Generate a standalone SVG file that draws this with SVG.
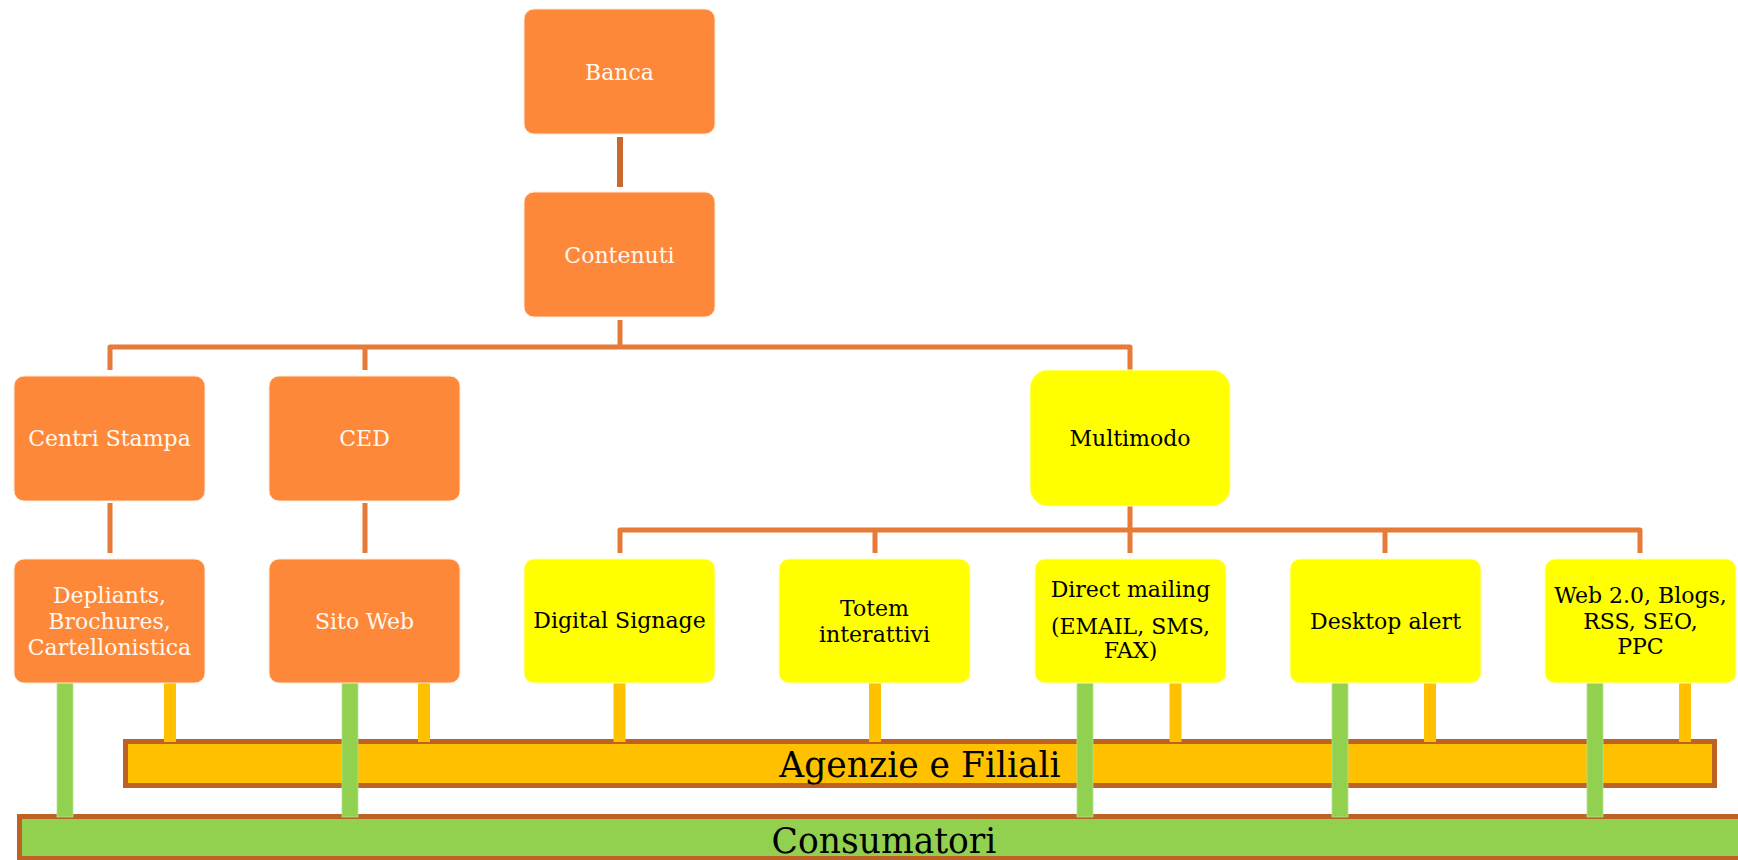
<svg xmlns="http://www.w3.org/2000/svg" width="1738" height="860" viewBox="0 0 1738 860">
<style>
.ob{fill:#FE8839;stroke:#FFE9D8;stroke-width:1}
.yb{fill:#FFFF00;stroke:#FFFFB0;stroke-width:1}
.t{font-family:"DejaVu Serif","Liberation Serif",serif;font-size:22px;text-anchor:middle}
.tw{fill:#FFF8F0}
.tk{fill:#000}
.big{font-family:"DejaVu Serif","Liberation Serif",serif;font-size:34.5px;text-anchor:middle;fill:#000}
.ln{fill:none;stroke:#E67A36;stroke-width:5;stroke-linejoin:round}
.ln2{fill:none;stroke:#C8692F;stroke-width:6}
.gs{fill:#92D050;stroke:#B5E090;stroke-width:0.8}
.os{fill:#FFC000}
</style>
<rect width="1738" height="860" fill="#FFFFFF"/>
<g id="bars">
<g id="agenzie">
<rect x="125.5" y="741.5" width="1589" height="44" fill="#FFC000" stroke="#BE6125" stroke-width="5"/>
<text class="big" x="920" y="777">Agenzie e Filiali</text>
</g>
<g id="consumatori">
<rect x="19.5" y="816.5" width="1760" height="42" fill="#92D050" stroke="#BE6125" stroke-width="5"/>
<text class="big" x="884" y="853">Consumatori</text>
</g>
</g>
<g id="connectors">
<path class="ln2" d="M620,137 V187"/>
<path class="ln" d="M620,320 V347 M110,370 V347 H1130 V370 M365,347 V370"/>
<path class="ln" d="M110,503 V553 M365,503 V553"/>
<path class="ln" d="M1130,503 V553 M620,553 V530 H1640 V553 M875,530 V553 M1385,530 V553"/>
<rect class="os" x="164" y="682" width="12" height="60"/>
<rect class="os" x="418" y="682" width="12" height="60"/>
<rect class="os" x="613.5" y="682" width="12" height="60"/>
<rect class="os" x="869" y="682" width="12" height="60"/>
<rect class="os" x="1169.5" y="682" width="12" height="60"/>
<rect class="os" x="1424" y="682" width="12" height="60"/>
<rect class="os" x="1679" y="682" width="12" height="60"/>
<rect class="gs" x="57" y="682" width="16" height="135"/>
<rect class="gs" x="342" y="682" width="16" height="135"/>
<rect class="gs" x="1077" y="682" width="16" height="135"/>
<rect class="gs" x="1332" y="682" width="16" height="135"/>
<rect class="gs" x="1587" y="682" width="16" height="135"/>
</g>
<g id="banca"><rect class="ob" x="524" y="9" width="191" height="125" rx="10"/><text class="t tw" x="619.5" y="80">Banca</text></g>
<g id="contenuti"><rect class="ob" x="524" y="192" width="191" height="125" rx="10"/><text class="t tw" x="619.5" y="263">Contenuti</text></g>
<g id="centri-stampa"><rect class="ob" x="14" y="376" width="191" height="125" rx="10"/><text class="t tw" x="109.5" y="446">Centri Stampa</text></g>
<g id="ced"><rect class="ob" x="269" y="376" width="191" height="125" rx="10"/><text class="t tw" x="364.5" y="446">CED</text></g>
<g id="multimodo"><rect class="yb" x="1030" y="370" width="200" height="136" rx="18"/><text class="t tk" x="1130" y="446">Multimodo</text></g>
<g id="depliants"><rect class="ob" x="14" y="559" width="191" height="124" rx="10"/><text class="t tw" x="109.5" y="603">Depliants,</text><text class="t tw" x="109.5" y="629">Brochures,</text><text class="t tw" x="109.5" y="655">Cartellonistica</text></g>
<g id="sito-web"><rect class="ob" x="269" y="559" width="191" height="124" rx="10"/><text class="t tw" x="364.5" y="629">Sito Web</text></g>
<g id="digital-signage"><rect class="yb" x="524" y="559" width="191" height="124" rx="10"/><text class="t tk" x="619.5" y="628">Digital Signage</text></g>
<g id="totem"><rect class="yb" x="779" y="559" width="191" height="124" rx="10"/><text class="t tk" x="874.5" y="616">Totem</text><text class="t tk" x="874.5" y="642">interattivi</text></g>
<g id="direct-mailing"><rect class="yb" x="1035" y="559" width="191" height="124" rx="10"/><text class="t tk" x="1130.5" y="597">Direct mailing</text><text class="t tk" x="1130.5" y="634">(EMAIL, SMS,</text><text class="t tk" x="1130.5" y="658">FAX)</text></g>
<g id="desktop-alert"><rect class="yb" x="1290" y="559" width="191" height="124" rx="10"/><text class="t tk" x="1385.5" y="629">Desktop alert</text></g>
<g id="web20"><rect class="yb" x="1545" y="559" width="191" height="124" rx="10"/><text class="t tk" x="1640.5" y="603">Web 2.0, Blogs,</text><text class="t tk" x="1640.5" y="629">RSS, SEO,</text><text class="t tk" x="1640.5" y="654">PPC</text></g>
</svg>
